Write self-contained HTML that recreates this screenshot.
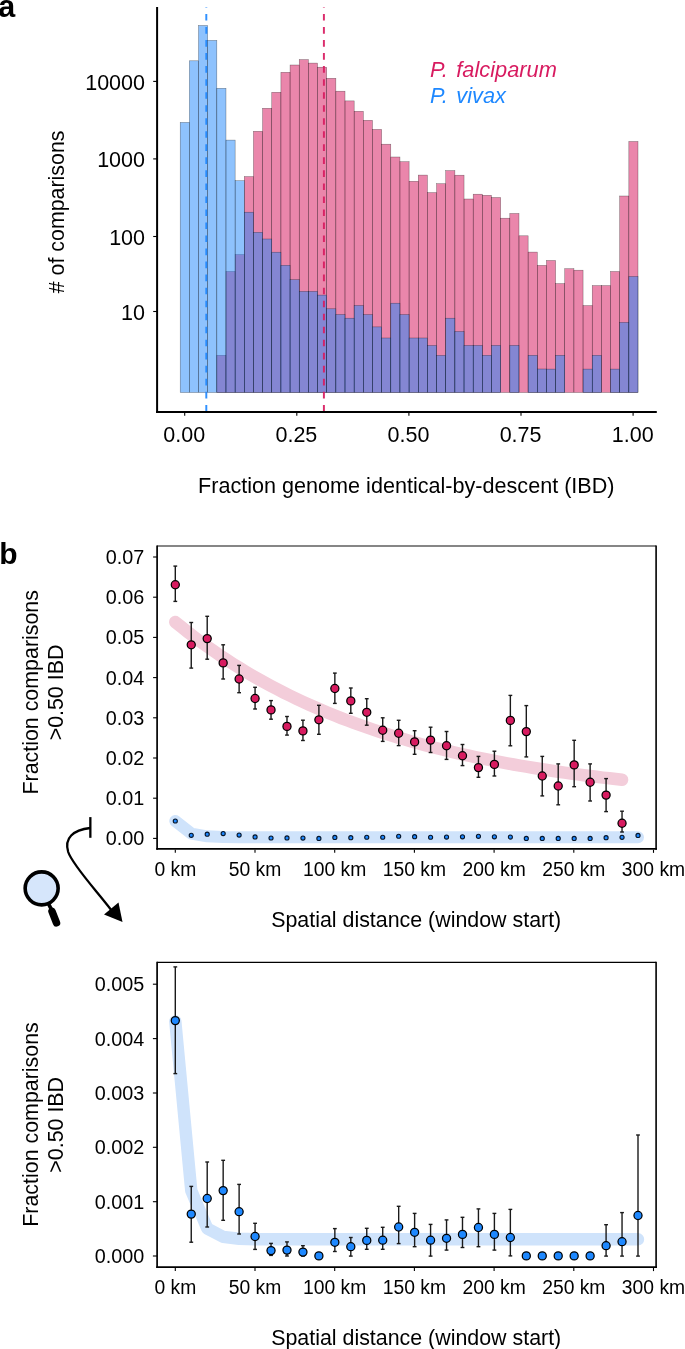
<!DOCTYPE html>
<html><head><meta charset="utf-8"><style>
html,body{margin:0;padding:0;background:#fff;width:685px;height:1349px;overflow:hidden}
svg{display:block;font-family:"Liberation Sans",sans-serif;will-change:transform}
</style></head><body><svg width="685" height="1349" viewBox="0 0 685 1349" font-family="Liberation Sans, sans-serif"><g><rect x="216.82" y="355.30" width="9.156" height="37.20" fill="#D81B60" fill-opacity="0.53" stroke="#000" stroke-opacity="0.5" stroke-width="0.5"/><rect x="225.98" y="271.50" width="9.156" height="121.00" fill="#D81B60" fill-opacity="0.53" stroke="#000" stroke-opacity="0.5" stroke-width="0.5"/><rect x="235.14" y="254.60" width="9.156" height="137.90" fill="#D81B60" fill-opacity="0.53" stroke="#000" stroke-opacity="0.5" stroke-width="0.5"/><rect x="244.29" y="176.60" width="9.156" height="215.90" fill="#D81B60" fill-opacity="0.53" stroke="#000" stroke-opacity="0.5" stroke-width="0.5"/><rect x="253.45" y="131.30" width="9.156" height="261.20" fill="#D81B60" fill-opacity="0.53" stroke="#000" stroke-opacity="0.5" stroke-width="0.5"/><rect x="262.60" y="108.30" width="9.156" height="284.20" fill="#D81B60" fill-opacity="0.53" stroke="#000" stroke-opacity="0.5" stroke-width="0.5"/><rect x="271.76" y="92.30" width="9.156" height="300.20" fill="#D81B60" fill-opacity="0.53" stroke="#000" stroke-opacity="0.5" stroke-width="0.5"/><rect x="280.92" y="72.30" width="9.156" height="320.20" fill="#D81B60" fill-opacity="0.53" stroke="#000" stroke-opacity="0.5" stroke-width="0.5"/><rect x="290.07" y="65.00" width="9.156" height="327.50" fill="#D81B60" fill-opacity="0.53" stroke="#000" stroke-opacity="0.5" stroke-width="0.5"/><rect x="299.23" y="59.60" width="9.156" height="332.90" fill="#D81B60" fill-opacity="0.53" stroke="#000" stroke-opacity="0.5" stroke-width="0.5"/><rect x="308.38" y="63.10" width="9.156" height="329.40" fill="#D81B60" fill-opacity="0.53" stroke="#000" stroke-opacity="0.5" stroke-width="0.5"/><rect x="317.54" y="67.20" width="9.156" height="325.30" fill="#D81B60" fill-opacity="0.53" stroke="#000" stroke-opacity="0.5" stroke-width="0.5"/><rect x="326.70" y="78.30" width="9.156" height="314.20" fill="#D81B60" fill-opacity="0.53" stroke="#000" stroke-opacity="0.5" stroke-width="0.5"/><rect x="335.85" y="91.20" width="9.156" height="301.30" fill="#D81B60" fill-opacity="0.53" stroke="#000" stroke-opacity="0.5" stroke-width="0.5"/><rect x="345.01" y="100.90" width="9.156" height="291.60" fill="#D81B60" fill-opacity="0.53" stroke="#000" stroke-opacity="0.5" stroke-width="0.5"/><rect x="354.16" y="111.30" width="9.156" height="281.20" fill="#D81B60" fill-opacity="0.53" stroke="#000" stroke-opacity="0.5" stroke-width="0.5"/><rect x="363.32" y="120.30" width="9.156" height="272.20" fill="#D81B60" fill-opacity="0.53" stroke="#000" stroke-opacity="0.5" stroke-width="0.5"/><rect x="372.48" y="129.40" width="9.156" height="263.10" fill="#D81B60" fill-opacity="0.53" stroke="#000" stroke-opacity="0.5" stroke-width="0.5"/><rect x="381.63" y="144.20" width="9.156" height="248.30" fill="#D81B60" fill-opacity="0.53" stroke="#000" stroke-opacity="0.5" stroke-width="0.5"/><rect x="390.79" y="157.00" width="9.156" height="235.50" fill="#D81B60" fill-opacity="0.53" stroke="#000" stroke-opacity="0.5" stroke-width="0.5"/><rect x="399.94" y="161.70" width="9.156" height="230.80" fill="#D81B60" fill-opacity="0.53" stroke="#000" stroke-opacity="0.5" stroke-width="0.5"/><rect x="409.10" y="181.30" width="9.156" height="211.20" fill="#D81B60" fill-opacity="0.53" stroke="#000" stroke-opacity="0.5" stroke-width="0.5"/><rect x="418.26" y="175.10" width="9.156" height="217.40" fill="#D81B60" fill-opacity="0.53" stroke="#000" stroke-opacity="0.5" stroke-width="0.5"/><rect x="427.41" y="192.60" width="9.156" height="199.90" fill="#D81B60" fill-opacity="0.53" stroke="#000" stroke-opacity="0.5" stroke-width="0.5"/><rect x="436.57" y="183.70" width="9.156" height="208.80" fill="#D81B60" fill-opacity="0.53" stroke="#000" stroke-opacity="0.5" stroke-width="0.5"/><rect x="445.72" y="170.60" width="9.156" height="221.90" fill="#D81B60" fill-opacity="0.53" stroke="#000" stroke-opacity="0.5" stroke-width="0.5"/><rect x="454.88" y="175.20" width="9.156" height="217.30" fill="#D81B60" fill-opacity="0.53" stroke="#000" stroke-opacity="0.5" stroke-width="0.5"/><rect x="464.04" y="199.00" width="9.156" height="193.50" fill="#D81B60" fill-opacity="0.53" stroke="#000" stroke-opacity="0.5" stroke-width="0.5"/><rect x="473.19" y="194.20" width="9.156" height="198.30" fill="#D81B60" fill-opacity="0.53" stroke="#000" stroke-opacity="0.5" stroke-width="0.5"/><rect x="482.35" y="195.30" width="9.156" height="197.20" fill="#D81B60" fill-opacity="0.53" stroke="#000" stroke-opacity="0.5" stroke-width="0.5"/><rect x="491.50" y="197.50" width="9.156" height="195.00" fill="#D81B60" fill-opacity="0.53" stroke="#000" stroke-opacity="0.5" stroke-width="0.5"/><rect x="500.66" y="218.20" width="9.156" height="174.30" fill="#D81B60" fill-opacity="0.53" stroke="#000" stroke-opacity="0.5" stroke-width="0.5"/><rect x="509.82" y="213.50" width="9.156" height="179.00" fill="#D81B60" fill-opacity="0.53" stroke="#000" stroke-opacity="0.5" stroke-width="0.5"/><rect x="518.97" y="235.80" width="9.156" height="156.70" fill="#D81B60" fill-opacity="0.53" stroke="#000" stroke-opacity="0.5" stroke-width="0.5"/><rect x="528.13" y="252.10" width="9.156" height="140.40" fill="#D81B60" fill-opacity="0.53" stroke="#000" stroke-opacity="0.5" stroke-width="0.5"/><rect x="537.28" y="265.40" width="9.156" height="127.10" fill="#D81B60" fill-opacity="0.53" stroke="#000" stroke-opacity="0.5" stroke-width="0.5"/><rect x="546.44" y="260.50" width="9.156" height="132.00" fill="#D81B60" fill-opacity="0.53" stroke="#000" stroke-opacity="0.5" stroke-width="0.5"/><rect x="555.60" y="283.60" width="9.156" height="108.90" fill="#D81B60" fill-opacity="0.53" stroke="#000" stroke-opacity="0.5" stroke-width="0.5"/><rect x="564.75" y="268.70" width="9.156" height="123.80" fill="#D81B60" fill-opacity="0.53" stroke="#000" stroke-opacity="0.5" stroke-width="0.5"/><rect x="573.91" y="270.20" width="9.156" height="122.30" fill="#D81B60" fill-opacity="0.53" stroke="#000" stroke-opacity="0.5" stroke-width="0.5"/><rect x="583.06" y="305.60" width="9.156" height="86.90" fill="#D81B60" fill-opacity="0.53" stroke="#000" stroke-opacity="0.5" stroke-width="0.5"/><rect x="592.22" y="285.60" width="9.156" height="106.90" fill="#D81B60" fill-opacity="0.53" stroke="#000" stroke-opacity="0.5" stroke-width="0.5"/><rect x="601.38" y="285.60" width="9.156" height="106.90" fill="#D81B60" fill-opacity="0.53" stroke="#000" stroke-opacity="0.5" stroke-width="0.5"/><rect x="610.53" y="271.50" width="9.156" height="121.00" fill="#D81B60" fill-opacity="0.53" stroke="#000" stroke-opacity="0.5" stroke-width="0.5"/><rect x="619.69" y="196.00" width="9.156" height="196.50" fill="#D81B60" fill-opacity="0.53" stroke="#000" stroke-opacity="0.5" stroke-width="0.5"/><rect x="628.84" y="141.50" width="9.156" height="251.00" fill="#D81B60" fill-opacity="0.53" stroke="#000" stroke-opacity="0.5" stroke-width="0.5"/><rect x="180.20" y="122.40" width="9.156" height="270.10" fill="#1D85FB" fill-opacity="0.5" stroke="#000" stroke-opacity="0.5" stroke-width="0.5"/><rect x="189.36" y="60.80" width="9.156" height="331.70" fill="#1D85FB" fill-opacity="0.5" stroke="#000" stroke-opacity="0.5" stroke-width="0.5"/><rect x="198.51" y="25.50" width="9.156" height="367.00" fill="#1D85FB" fill-opacity="0.5" stroke="#000" stroke-opacity="0.5" stroke-width="0.5"/><rect x="207.67" y="40.40" width="9.156" height="352.10" fill="#1D85FB" fill-opacity="0.5" stroke="#000" stroke-opacity="0.5" stroke-width="0.5"/><rect x="216.82" y="88.30" width="9.156" height="304.20" fill="#1D85FB" fill-opacity="0.5" stroke="#000" stroke-opacity="0.5" stroke-width="0.5"/><rect x="225.98" y="140.10" width="9.156" height="252.40" fill="#1D85FB" fill-opacity="0.5" stroke="#000" stroke-opacity="0.5" stroke-width="0.5"/><rect x="235.14" y="180.70" width="9.156" height="211.80" fill="#1D85FB" fill-opacity="0.5" stroke="#000" stroke-opacity="0.5" stroke-width="0.5"/><rect x="244.29" y="212.20" width="9.156" height="180.30" fill="#1D85FB" fill-opacity="0.5" stroke="#000" stroke-opacity="0.5" stroke-width="0.5"/><rect x="253.45" y="232.30" width="9.156" height="160.20" fill="#1D85FB" fill-opacity="0.5" stroke="#000" stroke-opacity="0.5" stroke-width="0.5"/><rect x="262.60" y="239.00" width="9.156" height="153.50" fill="#1D85FB" fill-opacity="0.5" stroke="#000" stroke-opacity="0.5" stroke-width="0.5"/><rect x="271.76" y="252.20" width="9.156" height="140.30" fill="#1D85FB" fill-opacity="0.5" stroke="#000" stroke-opacity="0.5" stroke-width="0.5"/><rect x="280.92" y="265.30" width="9.156" height="127.20" fill="#1D85FB" fill-opacity="0.5" stroke="#000" stroke-opacity="0.5" stroke-width="0.5"/><rect x="290.07" y="279.70" width="9.156" height="112.80" fill="#1D85FB" fill-opacity="0.5" stroke="#000" stroke-opacity="0.5" stroke-width="0.5"/><rect x="299.23" y="291.40" width="9.156" height="101.10" fill="#1D85FB" fill-opacity="0.5" stroke="#000" stroke-opacity="0.5" stroke-width="0.5"/><rect x="308.38" y="291.40" width="9.156" height="101.10" fill="#1D85FB" fill-opacity="0.5" stroke="#000" stroke-opacity="0.5" stroke-width="0.5"/><rect x="317.54" y="295.10" width="9.156" height="97.40" fill="#1D85FB" fill-opacity="0.5" stroke="#000" stroke-opacity="0.5" stroke-width="0.5"/><rect x="326.70" y="308.80" width="9.156" height="83.70" fill="#1D85FB" fill-opacity="0.5" stroke="#000" stroke-opacity="0.5" stroke-width="0.5"/><rect x="335.85" y="314.50" width="9.156" height="78.00" fill="#1D85FB" fill-opacity="0.5" stroke="#000" stroke-opacity="0.5" stroke-width="0.5"/><rect x="345.01" y="318.20" width="9.156" height="74.30" fill="#1D85FB" fill-opacity="0.5" stroke="#000" stroke-opacity="0.5" stroke-width="0.5"/><rect x="354.16" y="305.50" width="9.156" height="87.00" fill="#1D85FB" fill-opacity="0.5" stroke="#000" stroke-opacity="0.5" stroke-width="0.5"/><rect x="363.32" y="314.60" width="9.156" height="77.90" fill="#1D85FB" fill-opacity="0.5" stroke="#000" stroke-opacity="0.5" stroke-width="0.5"/><rect x="372.48" y="326.90" width="9.156" height="65.60" fill="#1D85FB" fill-opacity="0.5" stroke="#000" stroke-opacity="0.5" stroke-width="0.5"/><rect x="381.63" y="338.00" width="9.156" height="54.50" fill="#1D85FB" fill-opacity="0.5" stroke="#000" stroke-opacity="0.5" stroke-width="0.5"/><rect x="390.79" y="303.20" width="9.156" height="89.30" fill="#1D85FB" fill-opacity="0.5" stroke="#000" stroke-opacity="0.5" stroke-width="0.5"/><rect x="399.94" y="314.60" width="9.156" height="77.90" fill="#1D85FB" fill-opacity="0.5" stroke="#000" stroke-opacity="0.5" stroke-width="0.5"/><rect x="409.10" y="338.00" width="9.156" height="54.50" fill="#1D85FB" fill-opacity="0.5" stroke="#000" stroke-opacity="0.5" stroke-width="0.5"/><rect x="418.26" y="338.00" width="9.156" height="54.50" fill="#1D85FB" fill-opacity="0.5" stroke="#000" stroke-opacity="0.5" stroke-width="0.5"/><rect x="427.41" y="345.50" width="9.156" height="47.00" fill="#1D85FB" fill-opacity="0.5" stroke="#000" stroke-opacity="0.5" stroke-width="0.5"/><rect x="436.57" y="355.40" width="9.156" height="37.10" fill="#1D85FB" fill-opacity="0.5" stroke="#000" stroke-opacity="0.5" stroke-width="0.5"/><rect x="445.72" y="318.20" width="9.156" height="74.30" fill="#1D85FB" fill-opacity="0.5" stroke="#000" stroke-opacity="0.5" stroke-width="0.5"/><rect x="454.88" y="331.50" width="9.156" height="61.00" fill="#1D85FB" fill-opacity="0.5" stroke="#000" stroke-opacity="0.5" stroke-width="0.5"/><rect x="464.04" y="345.40" width="9.156" height="47.10" fill="#1D85FB" fill-opacity="0.5" stroke="#000" stroke-opacity="0.5" stroke-width="0.5"/><rect x="473.19" y="345.40" width="9.156" height="47.10" fill="#1D85FB" fill-opacity="0.5" stroke="#000" stroke-opacity="0.5" stroke-width="0.5"/><rect x="482.35" y="355.30" width="9.156" height="37.20" fill="#1D85FB" fill-opacity="0.5" stroke="#000" stroke-opacity="0.5" stroke-width="0.5"/><rect x="491.50" y="345.40" width="9.156" height="47.10" fill="#1D85FB" fill-opacity="0.5" stroke="#000" stroke-opacity="0.5" stroke-width="0.5"/><rect x="509.82" y="345.40" width="9.156" height="47.10" fill="#1D85FB" fill-opacity="0.5" stroke="#000" stroke-opacity="0.5" stroke-width="0.5"/><rect x="528.13" y="355.30" width="9.156" height="37.20" fill="#1D85FB" fill-opacity="0.5" stroke="#000" stroke-opacity="0.5" stroke-width="0.5"/><rect x="537.28" y="369.00" width="9.156" height="23.50" fill="#1D85FB" fill-opacity="0.5" stroke="#000" stroke-opacity="0.5" stroke-width="0.5"/><rect x="546.44" y="369.10" width="9.156" height="23.40" fill="#1D85FB" fill-opacity="0.5" stroke="#000" stroke-opacity="0.5" stroke-width="0.5"/><rect x="555.60" y="355.30" width="9.156" height="37.20" fill="#1D85FB" fill-opacity="0.5" stroke="#000" stroke-opacity="0.5" stroke-width="0.5"/><rect x="583.06" y="369.10" width="9.156" height="23.40" fill="#1D85FB" fill-opacity="0.5" stroke="#000" stroke-opacity="0.5" stroke-width="0.5"/><rect x="592.22" y="355.30" width="9.156" height="37.20" fill="#1D85FB" fill-opacity="0.5" stroke="#000" stroke-opacity="0.5" stroke-width="0.5"/><rect x="610.53" y="369.10" width="9.156" height="23.40" fill="#1D85FB" fill-opacity="0.5" stroke="#000" stroke-opacity="0.5" stroke-width="0.5"/><rect x="619.69" y="322.40" width="9.156" height="70.10" fill="#1D85FB" fill-opacity="0.5" stroke="#000" stroke-opacity="0.5" stroke-width="0.5"/><rect x="628.84" y="276.50" width="9.156" height="116.00" fill="#1D85FB" fill-opacity="0.5" stroke="#000" stroke-opacity="0.5" stroke-width="0.5"/></g><line x1="206.3" y1="7" x2="206.3" y2="411.4" stroke="#1E88FF" stroke-opacity="0.92" stroke-width="1.95" stroke-dasharray="6.6 6.43" stroke-dashoffset="6.03"/><line x1="323.9" y1="7" x2="323.9" y2="411.4" stroke="#D81B60" stroke-opacity="0.92" stroke-width="1.95" stroke-dasharray="6.6 6.43" stroke-dashoffset="6.03"/><line x1="157.1" y1="7" x2="157.1" y2="412.9" stroke="#000" stroke-width="2"/><line x1="156.1" y1="411.9" x2="656.8" y2="411.9" stroke="#000" stroke-width="2"/><line x1="153.2" y1="81.4" x2="157" y2="81.4" stroke="#000" stroke-width="1.1"/><text x="145.0" y="89.6" font-size="21.5" text-anchor="end">10000</text><line x1="153.2" y1="158.9" x2="157" y2="158.9" stroke="#000" stroke-width="1.1"/><text x="145.0" y="167.1" font-size="21.5" text-anchor="end">1000</text><line x1="153.2" y1="236.5" x2="157" y2="236.5" stroke="#000" stroke-width="1.1"/><text x="145.0" y="244.7" font-size="21.5" text-anchor="end">100</text><line x1="153.2" y1="311.5" x2="157" y2="311.5" stroke="#000" stroke-width="1.1"/><text x="145.0" y="319.7" font-size="21.5" text-anchor="end">10</text><line x1="184.7" y1="412.8" x2="184.7" y2="415.7" stroke="#000" stroke-width="1.1"/><text x="184.3" y="442.2" font-size="21.5" text-anchor="middle">0.00</text><line x1="296.8" y1="412.8" x2="296.8" y2="415.7" stroke="#000" stroke-width="1.1"/><text x="296.4" y="442.2" font-size="21.5" text-anchor="middle">0.25</text><line x1="408.9" y1="412.8" x2="408.9" y2="415.7" stroke="#000" stroke-width="1.1"/><text x="408.5" y="442.2" font-size="21.5" text-anchor="middle">0.50</text><line x1="521.0" y1="412.8" x2="521.0" y2="415.7" stroke="#000" stroke-width="1.1"/><text x="520.6" y="442.2" font-size="21.5" text-anchor="middle">0.75</text><line x1="633.1" y1="412.8" x2="633.1" y2="415.7" stroke="#000" stroke-width="1.1"/><text x="632.7" y="442.2" font-size="21.5" text-anchor="middle">1.00</text><text x="406.3" y="493.2" font-size="21.6" text-anchor="middle">Fraction genome identical-by-descent (IBD)</text><text transform="translate(64.1 211.9) rotate(-90)" font-size="21.4" text-anchor="middle"># of comparisons</text><text x="430" y="76.9" font-size="21.8" font-style="italic" fill="#D81B60">P.</text><text x="456.3" y="76.9" font-size="21.8" font-style="italic" fill="#D81B60">falciparum</text><text x="430" y="102.5" font-size="21.8" font-style="italic" fill="#1E88FF">P.</text><text x="456.3" y="102.5" font-size="21.8" font-style="italic" fill="#1E88FF">vivax</text><text x="-1.7" y="16.9" font-size="30.5" font-weight="bold">a</text><text x="-0.8" y="563.5" font-size="30" font-weight="bold">b</text><path d="M175.30 622.04 L181.68 627.22 L188.06 632.25 L194.45 637.14 L200.83 641.89 L207.21 646.50 L213.59 650.98 L219.97 655.33 L226.36 659.56 L232.74 663.67 L239.12 667.67 L245.50 671.54 L251.88 675.31 L258.27 678.97 L264.65 682.53 L271.03 685.98 L277.41 689.34 L283.79 692.60 L290.18 695.77 L296.56 698.84 L302.94 701.83 L309.32 704.74 L315.70 707.56 L322.09 710.30 L328.47 712.97 L334.85 715.55 L341.23 718.07 L347.61 720.51 L354.00 722.88 L360.38 725.19 L366.76 727.43 L373.14 729.60 L379.52 731.72 L385.91 733.77 L392.29 735.76 L398.67 737.70 L405.05 739.58 L411.43 741.41 L417.82 743.19 L424.20 744.92 L430.58 746.59 L436.96 748.22 L443.34 749.81 L449.73 751.34 L456.11 752.84 L462.49 754.29 L468.87 755.70 L475.25 757.07 L481.64 758.40 L488.02 759.69 L494.40 760.95 L500.78 762.17 L507.16 763.35 L513.55 764.51 L519.93 765.63 L526.31 766.71 L532.69 767.77 L539.07 768.79 L545.46 769.79 L551.84 770.76 L558.22 771.70 L564.60 772.61 L570.98 773.50 L577.37 774.37 L583.75 775.20 L590.13 776.02 L596.51 776.81 L602.89 777.58 L609.28 778.32 L615.66 779.05 L622.04 779.75" fill="none" stroke="#F3CDDA" stroke-width="12.5" stroke-linecap="round" stroke-linejoin="round"/><line x1="157.1" y1="546.0" x2="656.1" y2="546.0" stroke="#000" stroke-width="0.95"/><line x1="656.1" y1="545.4" x2="656.1" y2="849.75" stroke="#000" stroke-width="1.6"/><line x1="157.1" y1="545.4" x2="157.1" y2="849.75" stroke="#000" stroke-width="1.7"/><line x1="156.3" y1="848.95" x2="656.9" y2="848.95" stroke="#000" stroke-width="1.7"/><line x1="175.3" y1="849.75" x2="175.3" y2="852.85" stroke="#000" stroke-width="1.1"/><text transform="translate(175.3 875.9) scale(1 1.08)" font-size="19.3" text-anchor="middle">0 km</text><line x1="255.0" y1="849.75" x2="255.0" y2="852.85" stroke="#000" stroke-width="1.1"/><text transform="translate(255.0 875.9) scale(1 1.08)" font-size="19.3" text-anchor="middle">50 km</text><line x1="334.7" y1="849.75" x2="334.7" y2="852.85" stroke="#000" stroke-width="1.1"/><text transform="translate(334.7 875.9) scale(1 1.08)" font-size="19.3" text-anchor="middle">100 km</text><line x1="414.4" y1="849.75" x2="414.4" y2="852.85" stroke="#000" stroke-width="1.1"/><text transform="translate(414.4 875.9) scale(1 1.08)" font-size="19.3" text-anchor="middle">150 km</text><line x1="494.1" y1="849.75" x2="494.1" y2="852.85" stroke="#000" stroke-width="1.1"/><text transform="translate(494.1 875.9) scale(1 1.08)" font-size="19.3" text-anchor="middle">200 km</text><line x1="573.8" y1="849.75" x2="573.8" y2="852.85" stroke="#000" stroke-width="1.1"/><text transform="translate(573.8 875.9) scale(1 1.08)" font-size="19.3" text-anchor="middle">250 km</text><line x1="653.5" y1="849.75" x2="653.5" y2="852.85" stroke="#000" stroke-width="1.1"/><text transform="translate(653.5 875.9) scale(1 1.08)" font-size="19.3" text-anchor="middle">300 km</text><path d="M175.30 821.05 L191.25 833.56 L207.21 836.36 L223.17 836.99 L239.12 837.13 L255.07 837.16 L271.03 837.16 L286.99 837.17 L302.94 837.17 L318.89 837.17 L334.85 837.17 L350.81 837.17 L366.76 837.17 L382.72 837.17 L398.67 837.17 L414.62 837.17 L430.58 837.17 L446.54 837.17 L462.49 837.17 L478.44 837.17 L494.40 837.17 L510.36 837.17 L526.31 837.17 L542.26 837.17 L558.22 837.17 L574.17 837.17 L590.13 837.17 L606.09 837.17 L622.04 837.17 L638.00 837.17" fill="none" stroke="#CFE3FB" stroke-width="12" stroke-linecap="round" stroke-linejoin="round"/><circle cx="175.30" cy="820.99" r="2.05" fill="#1E88FF" stroke="#05152a" stroke-width="1.1"/><circle cx="191.25" cy="835.30" r="2.05" fill="#1E88FF" stroke="#05152a" stroke-width="1.1"/><circle cx="207.21" cy="834.15" r="2.05" fill="#1E88FF" stroke="#05152a" stroke-width="1.1"/><circle cx="223.17" cy="833.56" r="2.05" fill="#1E88FF" stroke="#05152a" stroke-width="1.1"/><circle cx="239.12" cy="835.12" r="2.05" fill="#1E88FF" stroke="#05152a" stroke-width="1.1"/><circle cx="255.07" cy="836.96" r="2.05" fill="#1E88FF" stroke="#05152a" stroke-width="1.1"/><circle cx="271.03" cy="838.00" r="2.05" fill="#1E88FF" stroke="#05152a" stroke-width="1.1"/><circle cx="286.99" cy="837.96" r="2.05" fill="#1E88FF" stroke="#05152a" stroke-width="1.1"/><circle cx="302.94" cy="838.11" r="2.05" fill="#1E88FF" stroke="#05152a" stroke-width="1.1"/><circle cx="318.89" cy="838.39" r="2.05" fill="#1E88FF" stroke="#05152a" stroke-width="1.1"/><circle cx="334.85" cy="837.39" r="2.05" fill="#1E88FF" stroke="#05152a" stroke-width="1.1"/><circle cx="350.81" cy="837.71" r="2.05" fill="#1E88FF" stroke="#05152a" stroke-width="1.1"/><circle cx="366.76" cy="837.25" r="2.05" fill="#1E88FF" stroke="#05152a" stroke-width="1.1"/><circle cx="382.72" cy="837.23" r="2.05" fill="#1E88FF" stroke="#05152a" stroke-width="1.1"/><circle cx="398.67" cy="836.26" r="2.05" fill="#1E88FF" stroke="#05152a" stroke-width="1.1"/><circle cx="414.62" cy="836.65" r="2.05" fill="#1E88FF" stroke="#05152a" stroke-width="1.1"/><circle cx="430.58" cy="837.23" r="2.05" fill="#1E88FF" stroke="#05152a" stroke-width="1.1"/><circle cx="446.54" cy="837.09" r="2.05" fill="#1E88FF" stroke="#05152a" stroke-width="1.1"/><circle cx="462.49" cy="836.80" r="2.05" fill="#1E88FF" stroke="#05152a" stroke-width="1.1"/><circle cx="478.44" cy="836.29" r="2.05" fill="#1E88FF" stroke="#05152a" stroke-width="1.1"/><circle cx="494.40" cy="836.80" r="2.05" fill="#1E88FF" stroke="#05152a" stroke-width="1.1"/><circle cx="510.36" cy="837.03" r="2.05" fill="#1E88FF" stroke="#05152a" stroke-width="1.1"/><circle cx="526.31" cy="838.39" r="2.05" fill="#1E88FF" stroke="#05152a" stroke-width="1.1"/><circle cx="542.26" cy="838.39" r="2.05" fill="#1E88FF" stroke="#05152a" stroke-width="1.1"/><circle cx="558.22" cy="838.39" r="2.05" fill="#1E88FF" stroke="#05152a" stroke-width="1.1"/><circle cx="574.17" cy="838.39" r="2.05" fill="#1E88FF" stroke="#05152a" stroke-width="1.1"/><circle cx="590.13" cy="838.39" r="2.05" fill="#1E88FF" stroke="#05152a" stroke-width="1.1"/><circle cx="606.09" cy="837.64" r="2.05" fill="#1E88FF" stroke="#05152a" stroke-width="1.1"/><circle cx="622.04" cy="837.34" r="2.05" fill="#1E88FF" stroke="#05152a" stroke-width="1.1"/><circle cx="638.00" cy="835.40" r="2.05" fill="#1E88FF" stroke="#05152a" stroke-width="1.1"/><line x1="175.30" y1="566.1" x2="175.30" y2="601.4" stroke="#1a1a1a" stroke-width="1.4"/><line x1="173.40" y1="566.1" x2="177.20" y2="566.1" stroke="#1a1a1a" stroke-width="1.4"/><line x1="173.40" y1="601.4" x2="177.20" y2="601.4" stroke="#1a1a1a" stroke-width="1.4"/><line x1="191.25" y1="622.5" x2="191.25" y2="668.1" stroke="#1a1a1a" stroke-width="1.4"/><line x1="189.35" y1="622.5" x2="193.16" y2="622.5" stroke="#1a1a1a" stroke-width="1.4"/><line x1="189.35" y1="668.1" x2="193.16" y2="668.1" stroke="#1a1a1a" stroke-width="1.4"/><line x1="207.21" y1="616.3" x2="207.21" y2="659.2" stroke="#1a1a1a" stroke-width="1.4"/><line x1="205.31" y1="616.3" x2="209.11" y2="616.3" stroke="#1a1a1a" stroke-width="1.4"/><line x1="205.31" y1="659.2" x2="209.11" y2="659.2" stroke="#1a1a1a" stroke-width="1.4"/><line x1="223.17" y1="644.8" x2="223.17" y2="679.0" stroke="#1a1a1a" stroke-width="1.4"/><line x1="221.27" y1="644.8" x2="225.07" y2="644.8" stroke="#1a1a1a" stroke-width="1.4"/><line x1="221.27" y1="679.0" x2="225.07" y2="679.0" stroke="#1a1a1a" stroke-width="1.4"/><line x1="239.12" y1="665.4" x2="239.12" y2="692.7" stroke="#1a1a1a" stroke-width="1.4"/><line x1="237.22" y1="665.4" x2="241.02" y2="665.4" stroke="#1a1a1a" stroke-width="1.4"/><line x1="237.22" y1="692.7" x2="241.02" y2="692.7" stroke="#1a1a1a" stroke-width="1.4"/><line x1="255.07" y1="687.3" x2="255.07" y2="709.0" stroke="#1a1a1a" stroke-width="1.4"/><line x1="253.17" y1="687.3" x2="256.97" y2="687.3" stroke="#1a1a1a" stroke-width="1.4"/><line x1="253.17" y1="709.0" x2="256.97" y2="709.0" stroke="#1a1a1a" stroke-width="1.4"/><line x1="271.03" y1="700.6" x2="271.03" y2="719.2" stroke="#1a1a1a" stroke-width="1.4"/><line x1="269.13" y1="700.6" x2="272.93" y2="700.6" stroke="#1a1a1a" stroke-width="1.4"/><line x1="269.13" y1="719.2" x2="272.93" y2="719.2" stroke="#1a1a1a" stroke-width="1.4"/><line x1="286.99" y1="716.5" x2="286.99" y2="735.1" stroke="#1a1a1a" stroke-width="1.4"/><line x1="285.09" y1="716.5" x2="288.88" y2="716.5" stroke="#1a1a1a" stroke-width="1.4"/><line x1="285.09" y1="735.1" x2="288.88" y2="735.1" stroke="#1a1a1a" stroke-width="1.4"/><line x1="302.94" y1="720.2" x2="302.94" y2="740.5" stroke="#1a1a1a" stroke-width="1.4"/><line x1="301.04" y1="720.2" x2="304.84" y2="720.2" stroke="#1a1a1a" stroke-width="1.4"/><line x1="301.04" y1="740.5" x2="304.84" y2="740.5" stroke="#1a1a1a" stroke-width="1.4"/><line x1="318.89" y1="705.3" x2="318.89" y2="734.3" stroke="#1a1a1a" stroke-width="1.4"/><line x1="317.00" y1="705.3" x2="320.79" y2="705.3" stroke="#1a1a1a" stroke-width="1.4"/><line x1="317.00" y1="734.3" x2="320.79" y2="734.3" stroke="#1a1a1a" stroke-width="1.4"/><line x1="334.85" y1="673.1" x2="334.85" y2="703.4" stroke="#1a1a1a" stroke-width="1.4"/><line x1="332.95" y1="673.1" x2="336.75" y2="673.1" stroke="#1a1a1a" stroke-width="1.4"/><line x1="332.95" y1="703.4" x2="336.75" y2="703.4" stroke="#1a1a1a" stroke-width="1.4"/><line x1="350.81" y1="688.0" x2="350.81" y2="713.3" stroke="#1a1a1a" stroke-width="1.4"/><line x1="348.91" y1="688.0" x2="352.70" y2="688.0" stroke="#1a1a1a" stroke-width="1.4"/><line x1="348.91" y1="713.3" x2="352.70" y2="713.3" stroke="#1a1a1a" stroke-width="1.4"/><line x1="366.76" y1="698.7" x2="366.76" y2="725.2" stroke="#1a1a1a" stroke-width="1.4"/><line x1="364.86" y1="698.7" x2="368.66" y2="698.7" stroke="#1a1a1a" stroke-width="1.4"/><line x1="364.86" y1="725.2" x2="368.66" y2="725.2" stroke="#1a1a1a" stroke-width="1.4"/><line x1="382.72" y1="717.8" x2="382.72" y2="741.4" stroke="#1a1a1a" stroke-width="1.4"/><line x1="380.82" y1="717.8" x2="384.62" y2="717.8" stroke="#1a1a1a" stroke-width="1.4"/><line x1="380.82" y1="741.4" x2="384.62" y2="741.4" stroke="#1a1a1a" stroke-width="1.4"/><line x1="398.67" y1="720.3" x2="398.67" y2="745.6" stroke="#1a1a1a" stroke-width="1.4"/><line x1="396.77" y1="720.3" x2="400.57" y2="720.3" stroke="#1a1a1a" stroke-width="1.4"/><line x1="396.77" y1="745.6" x2="400.57" y2="745.6" stroke="#1a1a1a" stroke-width="1.4"/><line x1="414.62" y1="730.7" x2="414.62" y2="754.3" stroke="#1a1a1a" stroke-width="1.4"/><line x1="412.73" y1="730.7" x2="416.52" y2="730.7" stroke="#1a1a1a" stroke-width="1.4"/><line x1="412.73" y1="754.3" x2="416.52" y2="754.3" stroke="#1a1a1a" stroke-width="1.4"/><line x1="430.58" y1="727.2" x2="430.58" y2="752.5" stroke="#1a1a1a" stroke-width="1.4"/><line x1="428.68" y1="727.2" x2="432.48" y2="727.2" stroke="#1a1a1a" stroke-width="1.4"/><line x1="428.68" y1="752.5" x2="432.48" y2="752.5" stroke="#1a1a1a" stroke-width="1.4"/><line x1="446.54" y1="731.5" x2="446.54" y2="759.4" stroke="#1a1a1a" stroke-width="1.4"/><line x1="444.64" y1="731.5" x2="448.44" y2="731.5" stroke="#1a1a1a" stroke-width="1.4"/><line x1="444.64" y1="759.4" x2="448.44" y2="759.4" stroke="#1a1a1a" stroke-width="1.4"/><line x1="462.49" y1="744.5" x2="462.49" y2="765.6" stroke="#1a1a1a" stroke-width="1.4"/><line x1="460.59" y1="744.5" x2="464.39" y2="744.5" stroke="#1a1a1a" stroke-width="1.4"/><line x1="460.59" y1="765.6" x2="464.39" y2="765.6" stroke="#1a1a1a" stroke-width="1.4"/><line x1="478.44" y1="756.4" x2="478.44" y2="777.3" stroke="#1a1a1a" stroke-width="1.4"/><line x1="476.55" y1="756.4" x2="480.34" y2="756.4" stroke="#1a1a1a" stroke-width="1.4"/><line x1="476.55" y1="777.3" x2="480.34" y2="777.3" stroke="#1a1a1a" stroke-width="1.4"/><line x1="494.40" y1="751.2" x2="494.40" y2="776.0" stroke="#1a1a1a" stroke-width="1.4"/><line x1="492.50" y1="751.2" x2="496.30" y2="751.2" stroke="#1a1a1a" stroke-width="1.4"/><line x1="492.50" y1="776.0" x2="496.30" y2="776.0" stroke="#1a1a1a" stroke-width="1.4"/><line x1="510.36" y1="695.4" x2="510.36" y2="745.8" stroke="#1a1a1a" stroke-width="1.4"/><line x1="508.46" y1="695.4" x2="512.25" y2="695.4" stroke="#1a1a1a" stroke-width="1.4"/><line x1="508.46" y1="745.8" x2="512.25" y2="745.8" stroke="#1a1a1a" stroke-width="1.4"/><line x1="526.31" y1="705.6" x2="526.31" y2="756.9" stroke="#1a1a1a" stroke-width="1.4"/><line x1="524.41" y1="705.6" x2="528.21" y2="705.6" stroke="#1a1a1a" stroke-width="1.4"/><line x1="524.41" y1="756.9" x2="528.21" y2="756.9" stroke="#1a1a1a" stroke-width="1.4"/><line x1="542.26" y1="756.4" x2="542.26" y2="795.9" stroke="#1a1a1a" stroke-width="1.4"/><line x1="540.37" y1="756.4" x2="544.16" y2="756.4" stroke="#1a1a1a" stroke-width="1.4"/><line x1="540.37" y1="795.9" x2="544.16" y2="795.9" stroke="#1a1a1a" stroke-width="1.4"/><line x1="558.22" y1="763.9" x2="558.22" y2="804.8" stroke="#1a1a1a" stroke-width="1.4"/><line x1="556.32" y1="763.9" x2="560.12" y2="763.9" stroke="#1a1a1a" stroke-width="1.4"/><line x1="556.32" y1="804.8" x2="560.12" y2="804.8" stroke="#1a1a1a" stroke-width="1.4"/><line x1="574.17" y1="740.3" x2="574.17" y2="786.7" stroke="#1a1a1a" stroke-width="1.4"/><line x1="572.27" y1="740.3" x2="576.07" y2="740.3" stroke="#1a1a1a" stroke-width="1.4"/><line x1="572.27" y1="786.7" x2="576.07" y2="786.7" stroke="#1a1a1a" stroke-width="1.4"/><line x1="590.13" y1="763.9" x2="590.13" y2="801.0" stroke="#1a1a1a" stroke-width="1.4"/><line x1="588.23" y1="763.9" x2="592.03" y2="763.9" stroke="#1a1a1a" stroke-width="1.4"/><line x1="588.23" y1="801.0" x2="592.03" y2="801.0" stroke="#1a1a1a" stroke-width="1.4"/><line x1="606.09" y1="778.6" x2="606.09" y2="811.6" stroke="#1a1a1a" stroke-width="1.4"/><line x1="604.19" y1="778.6" x2="607.99" y2="778.6" stroke="#1a1a1a" stroke-width="1.4"/><line x1="604.19" y1="811.6" x2="607.99" y2="811.6" stroke="#1a1a1a" stroke-width="1.4"/><line x1="622.04" y1="811.2" x2="622.04" y2="832.0" stroke="#1a1a1a" stroke-width="1.4"/><line x1="620.14" y1="811.2" x2="623.94" y2="811.2" stroke="#1a1a1a" stroke-width="1.4"/><line x1="620.14" y1="832.0" x2="623.94" y2="832.0" stroke="#1a1a1a" stroke-width="1.4"/><circle cx="175.30" cy="584.7" r="4.05" fill="#D81B60" stroke="#000" stroke-width="1.25"/><circle cx="191.25" cy="644.8" r="4.05" fill="#D81B60" stroke="#000" stroke-width="1.25"/><circle cx="207.21" cy="638.6" r="4.05" fill="#D81B60" stroke="#000" stroke-width="1.25"/><circle cx="223.17" cy="662.9" r="4.05" fill="#D81B60" stroke="#000" stroke-width="1.25"/><circle cx="239.12" cy="679.0" r="4.05" fill="#D81B60" stroke="#000" stroke-width="1.25"/><circle cx="255.07" cy="698.5" r="4.05" fill="#D81B60" stroke="#000" stroke-width="1.25"/><circle cx="271.03" cy="709.9" r="4.05" fill="#D81B60" stroke="#000" stroke-width="1.25"/><circle cx="286.99" cy="726.4" r="4.05" fill="#D81B60" stroke="#000" stroke-width="1.25"/><circle cx="302.94" cy="730.9" r="4.05" fill="#D81B60" stroke="#000" stroke-width="1.25"/><circle cx="318.89" cy="719.8" r="4.05" fill="#D81B60" stroke="#000" stroke-width="1.25"/><circle cx="334.85" cy="688.5" r="4.05" fill="#D81B60" stroke="#000" stroke-width="1.25"/><circle cx="350.81" cy="700.9" r="4.05" fill="#D81B60" stroke="#000" stroke-width="1.25"/><circle cx="366.76" cy="712.3" r="4.05" fill="#D81B60" stroke="#000" stroke-width="1.25"/><circle cx="382.72" cy="730.2" r="4.05" fill="#D81B60" stroke="#000" stroke-width="1.25"/><circle cx="398.67" cy="733.2" r="4.05" fill="#D81B60" stroke="#000" stroke-width="1.25"/><circle cx="414.62" cy="741.9" r="4.05" fill="#D81B60" stroke="#000" stroke-width="1.25"/><circle cx="430.58" cy="740.1" r="4.05" fill="#D81B60" stroke="#000" stroke-width="1.25"/><circle cx="446.54" cy="745.7" r="4.05" fill="#D81B60" stroke="#000" stroke-width="1.25"/><circle cx="462.49" cy="755.7" r="4.05" fill="#D81B60" stroke="#000" stroke-width="1.25"/><circle cx="478.44" cy="767.6" r="4.05" fill="#D81B60" stroke="#000" stroke-width="1.25"/><circle cx="494.40" cy="764.4" r="4.05" fill="#D81B60" stroke="#000" stroke-width="1.25"/><circle cx="510.36" cy="720.4" r="4.05" fill="#D81B60" stroke="#000" stroke-width="1.25"/><circle cx="526.31" cy="731.6" r="4.05" fill="#D81B60" stroke="#000" stroke-width="1.25"/><circle cx="542.26" cy="776.0" r="4.05" fill="#D81B60" stroke="#000" stroke-width="1.25"/><circle cx="558.22" cy="786.0" r="4.05" fill="#D81B60" stroke="#000" stroke-width="1.25"/><circle cx="574.17" cy="764.9" r="4.05" fill="#D81B60" stroke="#000" stroke-width="1.25"/><circle cx="590.13" cy="782.2" r="4.05" fill="#D81B60" stroke="#000" stroke-width="1.25"/><circle cx="606.09" cy="795.1" r="4.05" fill="#D81B60" stroke="#000" stroke-width="1.25"/><circle cx="622.04" cy="823.2" r="4.05" fill="#D81B60" stroke="#000" stroke-width="1.25"/><line x1="153.1" y1="838.4" x2="157" y2="838.4" stroke="#000" stroke-width="1.1"/><text transform="translate(144.2 845.4) scale(1 1.06)" font-size="19.8" text-anchor="end">0.00</text><line x1="153.1" y1="798.2" x2="157" y2="798.2" stroke="#000" stroke-width="1.1"/><text transform="translate(144.2 805.2) scale(1 1.06)" font-size="19.8" text-anchor="end">0.01</text><line x1="153.1" y1="758.0" x2="157" y2="758.0" stroke="#000" stroke-width="1.1"/><text transform="translate(144.2 765.0) scale(1 1.06)" font-size="19.8" text-anchor="end">0.02</text><line x1="153.1" y1="717.8" x2="157" y2="717.8" stroke="#000" stroke-width="1.1"/><text transform="translate(144.2 724.8) scale(1 1.06)" font-size="19.8" text-anchor="end">0.03</text><line x1="153.1" y1="677.6" x2="157" y2="677.6" stroke="#000" stroke-width="1.1"/><text transform="translate(144.2 684.6) scale(1 1.06)" font-size="19.8" text-anchor="end">0.04</text><line x1="153.1" y1="637.4" x2="157" y2="637.4" stroke="#000" stroke-width="1.1"/><text transform="translate(144.2 644.4) scale(1 1.06)" font-size="19.8" text-anchor="end">0.05</text><line x1="153.1" y1="597.2" x2="157" y2="597.2" stroke="#000" stroke-width="1.1"/><text transform="translate(144.2 604.2) scale(1 1.06)" font-size="19.8" text-anchor="end">0.06</text><line x1="153.1" y1="557.0" x2="157" y2="557.0" stroke="#000" stroke-width="1.1"/><text transform="translate(144.2 564.0) scale(1 1.06)" font-size="19.8" text-anchor="end">0.07</text><text transform="translate(38.4 692.3) rotate(-90)" font-size="21.4" text-anchor="middle">Fraction comparisons</text><text transform="translate(63.3 692.5) rotate(-90)" font-size="21.4" text-anchor="middle">&gt;0.50 IBD</text><text x="416.2" y="926.6" font-size="21.4" text-anchor="middle">Spatial distance (window start)</text><line x1="157.1" y1="962.45" x2="656.1" y2="962.45" stroke="#000" stroke-width="1.2"/><line x1="656.1" y1="961.85" x2="656.1" y2="1268.0" stroke="#000" stroke-width="1.6"/><line x1="157.1" y1="961.85" x2="157.1" y2="1268.0" stroke="#000" stroke-width="1.7"/><line x1="156.3" y1="1267.2" x2="656.9" y2="1267.2" stroke="#000" stroke-width="1.7"/><line x1="175.3" y1="1268.0" x2="175.3" y2="1271.1000000000001" stroke="#000" stroke-width="1.1"/><text transform="translate(175.3 1294.1) scale(1 1.08)" font-size="19.3" text-anchor="middle">0 km</text><line x1="255.0" y1="1268.0" x2="255.0" y2="1271.1000000000001" stroke="#000" stroke-width="1.1"/><text transform="translate(255.0 1294.1) scale(1 1.08)" font-size="19.3" text-anchor="middle">50 km</text><line x1="334.7" y1="1268.0" x2="334.7" y2="1271.1000000000001" stroke="#000" stroke-width="1.1"/><text transform="translate(334.7 1294.1) scale(1 1.08)" font-size="19.3" text-anchor="middle">100 km</text><line x1="414.4" y1="1268.0" x2="414.4" y2="1271.1000000000001" stroke="#000" stroke-width="1.1"/><text transform="translate(414.4 1294.1) scale(1 1.08)" font-size="19.3" text-anchor="middle">150 km</text><line x1="494.1" y1="1268.0" x2="494.1" y2="1271.1000000000001" stroke="#000" stroke-width="1.1"/><text transform="translate(494.1 1294.1) scale(1 1.08)" font-size="19.3" text-anchor="middle">200 km</text><line x1="573.8" y1="1268.0" x2="573.8" y2="1271.1000000000001" stroke="#000" stroke-width="1.1"/><text transform="translate(573.8 1294.1) scale(1 1.08)" font-size="19.3" text-anchor="middle">250 km</text><line x1="653.5" y1="1268.0" x2="653.5" y2="1271.1000000000001" stroke="#000" stroke-width="1.1"/><text transform="translate(653.5 1294.1) scale(1 1.08)" font-size="19.3" text-anchor="middle">300 km</text><path d="M175.30 1021.37 L191.25 1190.54 L207.21 1228.40 L223.17 1236.87 L239.12 1238.77 L255.07 1239.19 L271.03 1239.29 L286.99 1239.31 L302.94 1239.31 L318.89 1239.31 L334.85 1239.31 L350.81 1239.31 L366.76 1239.31 L382.72 1239.31 L398.67 1239.31 L414.62 1239.31 L430.58 1239.31 L446.54 1239.31 L462.49 1239.31 L478.44 1239.31 L494.40 1239.31 L510.36 1239.31 L526.31 1239.31 L542.26 1239.31 L558.22 1239.31 L574.17 1239.31 L590.13 1239.31 L606.09 1239.31 L622.04 1239.31 L638.00 1239.31" fill="none" stroke="#CFE3FB" stroke-width="12.4" stroke-linecap="round" stroke-linejoin="round"/><line x1="175.30" y1="966.9" x2="175.30" y2="1073.6" stroke="#1a1a1a" stroke-width="1.4"/><line x1="173.40" y1="966.9" x2="177.20" y2="966.9" stroke="#1a1a1a" stroke-width="1.4"/><line x1="173.40" y1="1073.6" x2="177.20" y2="1073.6" stroke="#1a1a1a" stroke-width="1.4"/><line x1="191.25" y1="1186.4" x2="191.25" y2="1242.2" stroke="#1a1a1a" stroke-width="1.4"/><line x1="189.35" y1="1186.4" x2="193.16" y2="1186.4" stroke="#1a1a1a" stroke-width="1.4"/><line x1="189.35" y1="1242.2" x2="193.16" y2="1242.2" stroke="#1a1a1a" stroke-width="1.4"/><line x1="207.21" y1="1162.0" x2="207.21" y2="1227.0" stroke="#1a1a1a" stroke-width="1.4"/><line x1="205.31" y1="1162.0" x2="209.11" y2="1162.0" stroke="#1a1a1a" stroke-width="1.4"/><line x1="205.31" y1="1227.0" x2="209.11" y2="1227.0" stroke="#1a1a1a" stroke-width="1.4"/><line x1="223.17" y1="1160.3" x2="223.17" y2="1220.3" stroke="#1a1a1a" stroke-width="1.4"/><line x1="221.27" y1="1160.3" x2="225.07" y2="1160.3" stroke="#1a1a1a" stroke-width="1.4"/><line x1="221.27" y1="1220.3" x2="225.07" y2="1220.3" stroke="#1a1a1a" stroke-width="1.4"/><line x1="239.12" y1="1184.4" x2="239.12" y2="1234.0" stroke="#1a1a1a" stroke-width="1.4"/><line x1="237.22" y1="1184.4" x2="241.02" y2="1184.4" stroke="#1a1a1a" stroke-width="1.4"/><line x1="237.22" y1="1234.0" x2="241.02" y2="1234.0" stroke="#1a1a1a" stroke-width="1.4"/><line x1="255.07" y1="1223.3" x2="255.07" y2="1249.4" stroke="#1a1a1a" stroke-width="1.4"/><line x1="253.17" y1="1223.3" x2="256.97" y2="1223.3" stroke="#1a1a1a" stroke-width="1.4"/><line x1="253.17" y1="1249.4" x2="256.97" y2="1249.4" stroke="#1a1a1a" stroke-width="1.4"/><line x1="271.03" y1="1243.4" x2="271.03" y2="1255.4" stroke="#1a1a1a" stroke-width="1.4"/><line x1="269.13" y1="1243.4" x2="272.93" y2="1243.4" stroke="#1a1a1a" stroke-width="1.4"/><line x1="269.13" y1="1255.4" x2="272.93" y2="1255.4" stroke="#1a1a1a" stroke-width="1.4"/><line x1="286.99" y1="1241.9" x2="286.99" y2="1256.0" stroke="#1a1a1a" stroke-width="1.4"/><line x1="285.09" y1="1241.9" x2="288.88" y2="1241.9" stroke="#1a1a1a" stroke-width="1.4"/><line x1="285.09" y1="1256.0" x2="288.88" y2="1256.0" stroke="#1a1a1a" stroke-width="1.4"/><line x1="302.94" y1="1245.7" x2="302.94" y2="1256.0" stroke="#1a1a1a" stroke-width="1.4"/><line x1="301.04" y1="1245.7" x2="304.84" y2="1245.7" stroke="#1a1a1a" stroke-width="1.4"/><line x1="301.04" y1="1256.0" x2="304.84" y2="1256.0" stroke="#1a1a1a" stroke-width="1.4"/><line x1="334.85" y1="1228.6" x2="334.85" y2="1251.5" stroke="#1a1a1a" stroke-width="1.4"/><line x1="332.95" y1="1228.6" x2="336.75" y2="1228.6" stroke="#1a1a1a" stroke-width="1.4"/><line x1="332.95" y1="1251.5" x2="336.75" y2="1251.5" stroke="#1a1a1a" stroke-width="1.4"/><line x1="350.81" y1="1237.5" x2="350.81" y2="1256.1" stroke="#1a1a1a" stroke-width="1.4"/><line x1="348.91" y1="1237.5" x2="352.70" y2="1237.5" stroke="#1a1a1a" stroke-width="1.4"/><line x1="348.91" y1="1256.1" x2="352.70" y2="1256.1" stroke="#1a1a1a" stroke-width="1.4"/><line x1="366.76" y1="1228.3" x2="366.76" y2="1249.3" stroke="#1a1a1a" stroke-width="1.4"/><line x1="364.86" y1="1228.3" x2="368.66" y2="1228.3" stroke="#1a1a1a" stroke-width="1.4"/><line x1="364.86" y1="1249.3" x2="368.66" y2="1249.3" stroke="#1a1a1a" stroke-width="1.4"/><line x1="382.72" y1="1227.3" x2="382.72" y2="1249.3" stroke="#1a1a1a" stroke-width="1.4"/><line x1="380.82" y1="1227.3" x2="384.62" y2="1227.3" stroke="#1a1a1a" stroke-width="1.4"/><line x1="380.82" y1="1249.3" x2="384.62" y2="1249.3" stroke="#1a1a1a" stroke-width="1.4"/><line x1="398.67" y1="1206.3" x2="398.67" y2="1243.6" stroke="#1a1a1a" stroke-width="1.4"/><line x1="396.77" y1="1206.3" x2="400.57" y2="1206.3" stroke="#1a1a1a" stroke-width="1.4"/><line x1="396.77" y1="1243.6" x2="400.57" y2="1243.6" stroke="#1a1a1a" stroke-width="1.4"/><line x1="414.62" y1="1213.4" x2="414.62" y2="1246.7" stroke="#1a1a1a" stroke-width="1.4"/><line x1="412.73" y1="1213.4" x2="416.52" y2="1213.4" stroke="#1a1a1a" stroke-width="1.4"/><line x1="412.73" y1="1246.7" x2="416.52" y2="1246.7" stroke="#1a1a1a" stroke-width="1.4"/><line x1="430.58" y1="1224.4" x2="430.58" y2="1256.1" stroke="#1a1a1a" stroke-width="1.4"/><line x1="428.68" y1="1224.4" x2="432.48" y2="1224.4" stroke="#1a1a1a" stroke-width="1.4"/><line x1="428.68" y1="1256.1" x2="432.48" y2="1256.1" stroke="#1a1a1a" stroke-width="1.4"/><line x1="446.54" y1="1219.9" x2="446.54" y2="1250.1" stroke="#1a1a1a" stroke-width="1.4"/><line x1="444.64" y1="1219.9" x2="448.44" y2="1219.9" stroke="#1a1a1a" stroke-width="1.4"/><line x1="444.64" y1="1250.1" x2="448.44" y2="1250.1" stroke="#1a1a1a" stroke-width="1.4"/><line x1="462.49" y1="1217.3" x2="462.49" y2="1247.5" stroke="#1a1a1a" stroke-width="1.4"/><line x1="460.59" y1="1217.3" x2="464.39" y2="1217.3" stroke="#1a1a1a" stroke-width="1.4"/><line x1="460.59" y1="1247.5" x2="464.39" y2="1247.5" stroke="#1a1a1a" stroke-width="1.4"/><line x1="478.44" y1="1208.9" x2="478.44" y2="1246.7" stroke="#1a1a1a" stroke-width="1.4"/><line x1="476.55" y1="1208.9" x2="480.34" y2="1208.9" stroke="#1a1a1a" stroke-width="1.4"/><line x1="476.55" y1="1246.7" x2="480.34" y2="1246.7" stroke="#1a1a1a" stroke-width="1.4"/><line x1="494.40" y1="1213.4" x2="494.40" y2="1250.1" stroke="#1a1a1a" stroke-width="1.4"/><line x1="492.50" y1="1213.4" x2="496.30" y2="1213.4" stroke="#1a1a1a" stroke-width="1.4"/><line x1="492.50" y1="1250.1" x2="496.30" y2="1250.1" stroke="#1a1a1a" stroke-width="1.4"/><line x1="510.36" y1="1209.4" x2="510.36" y2="1255.9" stroke="#1a1a1a" stroke-width="1.4"/><line x1="508.46" y1="1209.4" x2="512.25" y2="1209.4" stroke="#1a1a1a" stroke-width="1.4"/><line x1="508.46" y1="1255.9" x2="512.25" y2="1255.9" stroke="#1a1a1a" stroke-width="1.4"/><line x1="606.09" y1="1224.7" x2="606.09" y2="1256.1" stroke="#1a1a1a" stroke-width="1.4"/><line x1="604.19" y1="1224.7" x2="607.99" y2="1224.7" stroke="#1a1a1a" stroke-width="1.4"/><line x1="604.19" y1="1256.1" x2="607.99" y2="1256.1" stroke="#1a1a1a" stroke-width="1.4"/><line x1="622.04" y1="1212.6" x2="622.04" y2="1256.1" stroke="#1a1a1a" stroke-width="1.4"/><line x1="620.14" y1="1212.6" x2="623.94" y2="1212.6" stroke="#1a1a1a" stroke-width="1.4"/><line x1="620.14" y1="1256.1" x2="623.94" y2="1256.1" stroke="#1a1a1a" stroke-width="1.4"/><line x1="638.00" y1="1135.0" x2="638.00" y2="1256.1" stroke="#1a1a1a" stroke-width="1.4"/><line x1="636.10" y1="1135.0" x2="639.89" y2="1135.0" stroke="#1a1a1a" stroke-width="1.4"/><line x1="636.10" y1="1256.1" x2="639.89" y2="1256.1" stroke="#1a1a1a" stroke-width="1.4"/><circle cx="175.30" cy="1020.6" r="4.05" fill="#1E88FF" stroke="#000" stroke-width="1.25"/><circle cx="191.25" cy="1214.1" r="4.05" fill="#1E88FF" stroke="#000" stroke-width="1.25"/><circle cx="207.21" cy="1198.5" r="4.05" fill="#1E88FF" stroke="#000" stroke-width="1.25"/><circle cx="223.17" cy="1190.6" r="4.05" fill="#1E88FF" stroke="#000" stroke-width="1.25"/><circle cx="239.12" cy="1211.7" r="4.05" fill="#1E88FF" stroke="#000" stroke-width="1.25"/><circle cx="255.07" cy="1236.5" r="4.05" fill="#1E88FF" stroke="#000" stroke-width="1.25"/><circle cx="271.03" cy="1250.6" r="4.05" fill="#1E88FF" stroke="#000" stroke-width="1.25"/><circle cx="286.99" cy="1250.1" r="4.05" fill="#1E88FF" stroke="#000" stroke-width="1.25"/><circle cx="302.94" cy="1252.1" r="4.05" fill="#1E88FF" stroke="#000" stroke-width="1.25"/><circle cx="318.89" cy="1255.9" r="4.05" fill="#1E88FF" stroke="#000" stroke-width="1.25"/><circle cx="334.85" cy="1242.3" r="4.05" fill="#1E88FF" stroke="#000" stroke-width="1.25"/><circle cx="350.81" cy="1246.7" r="4.05" fill="#1E88FF" stroke="#000" stroke-width="1.25"/><circle cx="366.76" cy="1240.4" r="4.05" fill="#1E88FF" stroke="#000" stroke-width="1.25"/><circle cx="382.72" cy="1240.2" r="4.05" fill="#1E88FF" stroke="#000" stroke-width="1.25"/><circle cx="398.67" cy="1227.0" r="4.05" fill="#1E88FF" stroke="#000" stroke-width="1.25"/><circle cx="414.62" cy="1232.3" r="4.05" fill="#1E88FF" stroke="#000" stroke-width="1.25"/><circle cx="430.58" cy="1240.2" r="4.05" fill="#1E88FF" stroke="#000" stroke-width="1.25"/><circle cx="446.54" cy="1238.3" r="4.05" fill="#1E88FF" stroke="#000" stroke-width="1.25"/><circle cx="462.49" cy="1234.4" r="4.05" fill="#1E88FF" stroke="#000" stroke-width="1.25"/><circle cx="478.44" cy="1227.5" r="4.05" fill="#1E88FF" stroke="#000" stroke-width="1.25"/><circle cx="494.40" cy="1234.4" r="4.05" fill="#1E88FF" stroke="#000" stroke-width="1.25"/><circle cx="510.36" cy="1237.5" r="4.05" fill="#1E88FF" stroke="#000" stroke-width="1.25"/><circle cx="526.31" cy="1255.9" r="4.05" fill="#1E88FF" stroke="#000" stroke-width="1.25"/><circle cx="542.26" cy="1255.9" r="4.05" fill="#1E88FF" stroke="#000" stroke-width="1.25"/><circle cx="558.22" cy="1255.9" r="4.05" fill="#1E88FF" stroke="#000" stroke-width="1.25"/><circle cx="574.17" cy="1255.9" r="4.05" fill="#1E88FF" stroke="#000" stroke-width="1.25"/><circle cx="590.13" cy="1255.9" r="4.05" fill="#1E88FF" stroke="#000" stroke-width="1.25"/><circle cx="606.09" cy="1245.7" r="4.05" fill="#1E88FF" stroke="#000" stroke-width="1.25"/><circle cx="622.04" cy="1241.7" r="4.05" fill="#1E88FF" stroke="#000" stroke-width="1.25"/><circle cx="638.00" cy="1215.5" r="4.05" fill="#1E88FF" stroke="#000" stroke-width="1.25"/><line x1="152.9" y1="1256.0" x2="157" y2="1256.0" stroke="#000" stroke-width="1.1"/><text transform="translate(144.2 1263.0) scale(1 1.06)" font-size="19.8" text-anchor="end">0.000</text><line x1="152.9" y1="1201.7" x2="157" y2="1201.7" stroke="#000" stroke-width="1.1"/><text transform="translate(144.2 1208.7) scale(1 1.06)" font-size="19.8" text-anchor="end">0.001</text><line x1="152.9" y1="1147.3" x2="157" y2="1147.3" stroke="#000" stroke-width="1.1"/><text transform="translate(144.2 1154.3) scale(1 1.06)" font-size="19.8" text-anchor="end">0.002</text><line x1="152.9" y1="1093.0" x2="157" y2="1093.0" stroke="#000" stroke-width="1.1"/><text transform="translate(144.2 1100.0) scale(1 1.06)" font-size="19.8" text-anchor="end">0.003</text><line x1="152.9" y1="1038.6" x2="157" y2="1038.6" stroke="#000" stroke-width="1.1"/><text transform="translate(144.2 1045.6) scale(1 1.06)" font-size="19.8" text-anchor="end">0.004</text><line x1="152.9" y1="984.2" x2="157" y2="984.2" stroke="#000" stroke-width="1.1"/><text transform="translate(144.2 991.2) scale(1 1.06)" font-size="19.8" text-anchor="end">0.005</text><text transform="translate(38.4 1124.5) rotate(-90)" font-size="21.4" text-anchor="middle">Fraction comparisons</text><text transform="translate(63.3 1124.8) rotate(-90)" font-size="21.4" text-anchor="middle">&gt;0.50 IBD</text><text x="416.2" y="1344.6" font-size="21.4" text-anchor="middle">Spatial distance (window start)</text><circle cx="41.65" cy="888.35" r="16.5" fill="#D6E6FB" stroke="#000" stroke-width="3.6"/><line x1="48.6" y1="904" x2="51.4" y2="909.5" stroke="#000" stroke-width="3.8"/><line x1="52.0" y1="911.4" x2="56.5" y2="922.8" stroke="#000" stroke-width="7.5" stroke-linecap="round"/><line x1="90.35" y1="817.1" x2="90.35" y2="837.8" stroke="#000" stroke-width="2.3"/><path d="M90.3 828 C73 830 64 838 68.2 852 C72.5 865 96 890 112 911" fill="none" stroke="#000" stroke-width="2.3"/><path d="M104 914.5 L118.5 902.5 L122.5 922 Z" fill="#000"/></svg></body></html>
